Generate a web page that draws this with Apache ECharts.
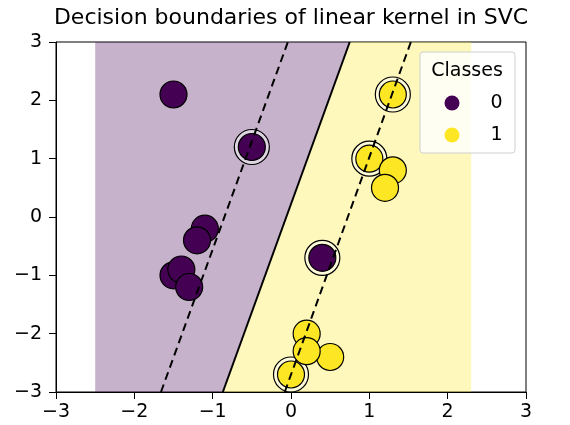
<!DOCTYPE html>
<html>
<head>
<meta charset="utf-8">
<script src="https://cdn.jsdelivr.net/npm/echarts@6/dist/echarts.min.js"></script>
<style>html,body{margin:0;padding:0;background:#fff}#c{width:570px;height:425px}</style>
</head>
<body>
<div id="c"></div>
<script>
// Data
const class0 = [[0.4,-0.7],[-1.5,-1.0],[-1.4,-0.9],[-1.3,-1.2],[-1.1,-0.2],[-1.2,-0.4],[-0.5,1.2],[-1.5,2.1]];
const class1 = [[1.0,1.0],[1.3,0.8],[1.2,0.5],[0.2,-2.0],[0.5,-2.4],[0.2,-2.3],[0.0,-2.7],[1.3,2.1]];
const supportVectors = [[0.4,-0.7],[-0.5,1.2],[1.0,1.0],[0.0,-2.7],[1.3,2.1]];
const boundary = [[-0.87,-3],[0.75,3]];
const marginLow = [[-1.66,-3],[-0.04,3]];
const marginHigh = [[-0.08,-3],[1.53,3]];
const regionClass0 = [[-2.5,-3],[-0.87,-3],[0.75,3],[-2.5,3]];
const regionClass1 = [[-0.87,-3],[2.3,-3],[2.3,3],[0.75,3]];
const ticks = [-3,-2,-1,0,1,2,3];

const FONT = 'DejaVu Sans';
const fmt = v => String(v).replace('-', '\u2212');

function polySeries(pts, color) {
  return {
    type: 'custom',
    silent: true,
    z: 1,
    renderItem: function (params, api) {
      const points = pts.map(p => api.coord(p));
      return {
        type: 'polygon',
        shape: { points: points },
        style: { fill: color, stroke: null }
      };
    },
    data: [0],
    clip: true
  };
}

function axisCfg(margin) {
  return {
    type: 'value', min: ticks[0], max: ticks[ticks.length-1], interval: 1,
    axisLine: { show: true, onZero: false, lineStyle: { color: '#000', width: 1 } },
    axisTick: { show: true, length: 7, lineStyle: { color: '#000' } },
    axisLabel: { formatter: fmt, fontFamily: FONT, fontSize: 19, color: '#000', margin: margin },
    splitLine: { show: false }
  };
}

const chart = echarts.init(document.getElementById('c'), null, { renderer: 'canvas' });
chart.setOption({
  animation: false,
  title: {
    text: 'Decision boundaries of linear kernel in SVC',
    left: 291, top: 7, textAlign: 'center', padding: 0,
    textStyle: { fontFamily: FONT, fontSize: 22, fontWeight: 'normal', color: '#000' }
  },
  grid: { left: 56, right: 44, top: 42, bottom: 33, show: true, borderColor: '#000', borderWidth: 1, backgroundColor: 'transparent' },
  xAxis: axisCfg(11),
  yAxis: axisCfg(14),
  legend: {
    data: [
      { name: '0', itemStyle: { borderWidth: 0 } },
      { name: '1', itemStyle: { borderWidth: 0 } }
    ],
    orient: 'vertical', left: 444.5, top: 93.5, padding: 0, itemWidth: 15, itemHeight: 15, itemGap: 13,
    icon: 'circle',
    textStyle: { fontFamily: FONT, fontSize: 19, color: '#000', padding: [0,0,0,26] },
    z: 6
  },
  graphic: [
    { type: 'rect', shape: { x: 420, y: 52, width: 95, height: 101, r: 3 }, style: { fill: 'rgba(255,255,255,0.8)', stroke: '#d0d0d0', lineWidth: 1 }, z: 5 },
    { type: 'text', x: 467, y: 71, style: { text: 'Classes', fontFamily: FONT, fontSize: 19, fill: '#000', align: 'center', verticalAlign: 'middle' }, z: 6 }
  ],
  series: [
    polySeries(regionClass0, 'rgba(68,1,84,0.3)'),
    polySeries(regionClass1, 'rgba(253,231,37,0.3)'),
    {
      name: 'sv', type: 'scatter', data: supportVectors, symbolSize: 35, z: 2,
      itemStyle: { color: 'rgba(255,255,255,0.45)', borderColor: '#000', borderWidth: 1.2, opacity: 1 },
      silent: true
    },
    {
      name: '0', type: 'scatter', data: class0, symbolSize: 27, z: 3,
      itemStyle: { color: '#440154', borderColor: '#000', borderWidth: 1.2, opacity: 1 }
    },
    {
      name: '1', type: 'scatter', data: class1, symbolSize: 27, z: 3,
      itemStyle: { color: '#fde725', borderColor: '#000', borderWidth: 1.2, opacity: 1 }
    },
    {
      type: 'line', data: boundary, symbol: 'none', z: 4, silent: true,
      lineStyle: { color: '#000', width: 2, type: 'solid' }
    },
    {
      type: 'line', data: marginLow, symbol: 'none', z: 4, silent: true,
      lineStyle: { color: '#000', width: 2, type: [8,5] }
    },
    {
      type: 'line', data: marginHigh, symbol: 'none', z: 4, silent: true,
      lineStyle: { color: '#000', width: 2, type: [8,5] }
    }
  ]
});
</script>
</body>
</html>
